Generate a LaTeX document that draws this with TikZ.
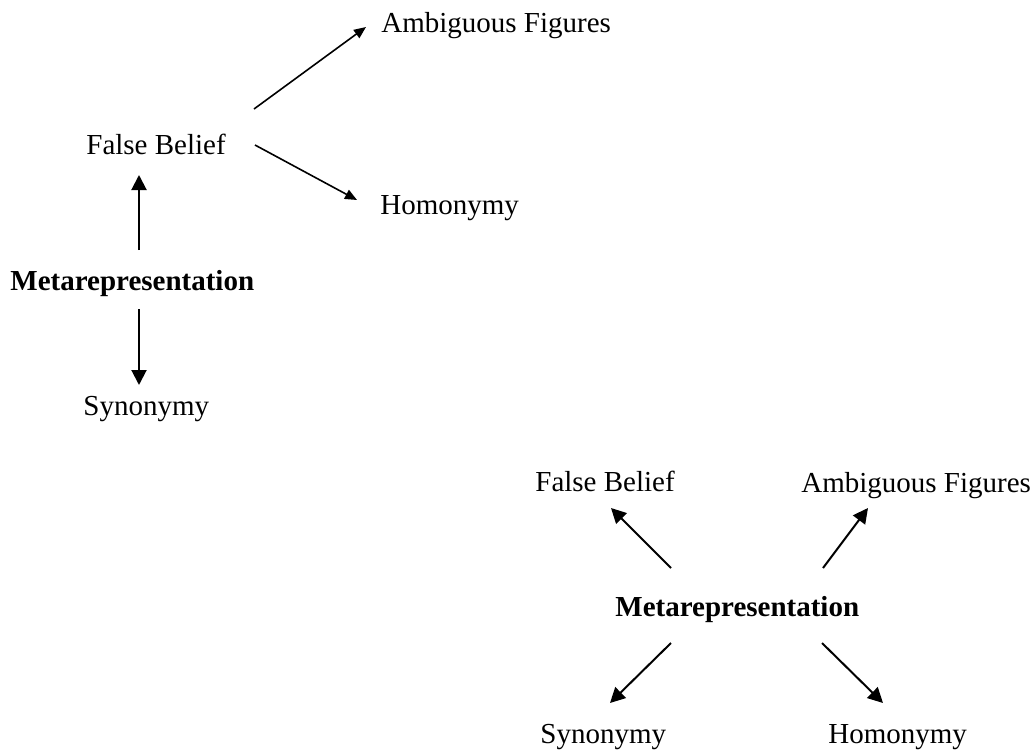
\documentclass[tikz,border=0pt]{standalone}
\usepackage{fontspec}
\setmainfont{Liberation Serif}
\usetikzlibrary{arrows.meta}

\begin{document}
\begin{tikzpicture}[x=0.5pt,y=-0.5pt,
							every node/.style={anchor=base west,inner sep=0pt,font=\fontsize{14.5}{17}\selectfont},
							head/.style={font=\fontsize{14.5}{17}\selectfont\bfseries},
							arr/.style={line width=1pt,-{Triangle[length=7.5pt,width=7.5pt]}},
							thinarr/.style={line width=0.8pt,-{Triangle[length=6pt,width=5pt]}},]
			\useasboundingbox (0,0) rectangle (1035,750);
			% first picture
			\node (af1) at (381,32) {Ambiguous Figures};
			\node (fb1) at (86,154) {False Belief};
			\node (hom1) at (380,214) {Homonymy};
			\node[head] (meta1) at (10,290) {Metarepresentation};
			\node (syn1) at (83,415) {Synonymy};
			\coordinate (fbaf) at (254,109);
			\coordinate (affb) at (366,27);
			\coordinate (fbhom) at (255,145);
			\coordinate (homfb) at (357,200);
			\coordinate (mfb) at (139,250);
			\coordinate (fbm) at (139,175);
			\coordinate (msyn) at (139,309);
			\coordinate (synm) at (139,385);
			\draw[thinarr] (fbaf) -- (affb);
			\draw[thinarr] (fbhom) -- (homfb);
			\draw[arr] (mfb) -- (fbm);
			\draw[arr] (msyn) -- (synm);
			% second picture
			\node (fb2) at (535,491) {False Belief};
			\node (af2) at (801,492) {Ambiguous Figures};
			\node[head] (meta2) at (615,616) {Metarepresentation};
			\node (syn2) at (540,743) {Synonymy};
			\node (hom2) at (828,743) {Homonymy};
			\coordinate (mfb2) at (671,568);
			\coordinate (fbm2) at (611,508);
			\coordinate (maf2) at (823,568);
			\coordinate (afm2) at (868,508);
			\coordinate (msyn2) at (671,643);
			\coordinate (synm2) at (610,703);
			\coordinate (mhom2) at (822,643);
			\coordinate (homm2) at (883,703);
			\draw[arr] (mfb2) -- (fbm2);
			\draw[arr] (maf2) -- (afm2);
			\draw[arr] (msyn2) -- (synm2);
			\draw[arr] (mhom2) -- (homm2);
		\end{tikzpicture}
\end{document}
